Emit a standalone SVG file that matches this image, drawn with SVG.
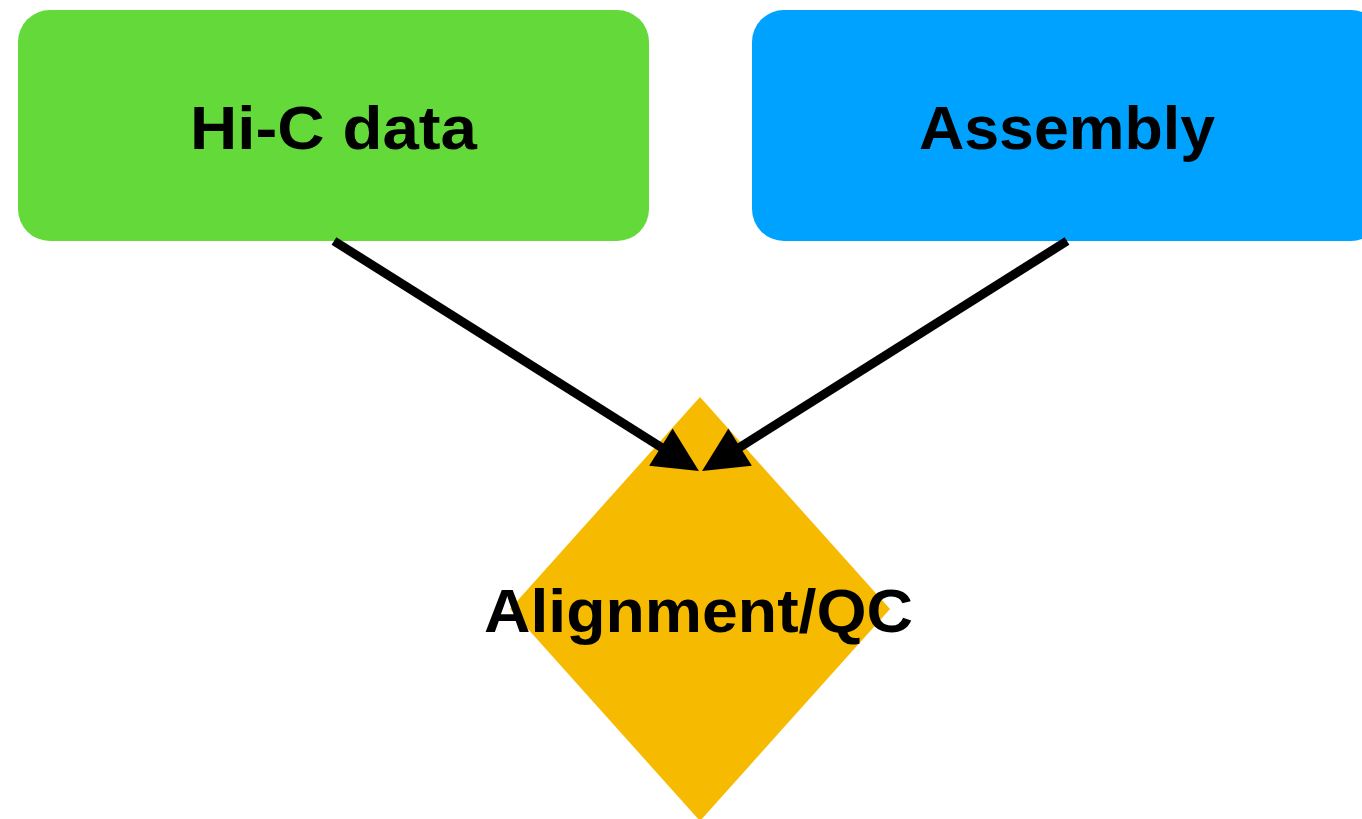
<svg xmlns="http://www.w3.org/2000/svg" width="1362" height="819" viewBox="0 0 1362 819">
  <style>
    .label { font-family: "Liberation Sans", Arial, Helvetica, sans-serif; font-weight: bold; font-size: 62px; fill: #000; text-anchor: middle; }
    .edge { stroke: #000; stroke-width: 9; fill: none; }
  </style>
  <defs>
    <marker id="arrow" markerUnits="userSpaceOnUse" orient="auto" refX="0" refY="0" markerWidth="80" markerHeight="80" overflow="visible">
      <path d="M25,0 L-20,-22 L-20,22 Z" fill="#000"/>
    </marker>
  </defs>
  <rect width="1362" height="819" fill="#fff"/>

  <g id="node-hic">
    <rect x="18" y="10" width="631" height="231" rx="32" ry="32" fill="#63DA3A"/>
    <text class="label" x="333.5" y="149" textLength="287" lengthAdjust="spacingAndGlyphs">Hi-C data</text>
  </g>

  <g id="node-assembly">
    <rect x="752" y="10" width="631" height="231" rx="32" ry="32" fill="#00A2FF"/>
    <text class="label" x="1067" y="149" textLength="296" lengthAdjust="spacingAndGlyphs">Assembly</text>
  </g>

  <g id="node-alignment">
    <polygon points="700,397 890,609 700,821 510,609" fill="#F6BA00"/>
    <text class="label" x="698.5" y="632" textLength="429" lengthAdjust="spacingAndGlyphs">Alignment/QC</text>
  </g>

  <g id="connectors">
    <line class="edge" x1="334" y1="241" x2="677.8" y2="457.7" marker-end="url(#arrow)"/>
    <line class="edge" x1="1067" y1="241" x2="723.2" y2="457.7" marker-end="url(#arrow)"/>
  </g>
</svg>
